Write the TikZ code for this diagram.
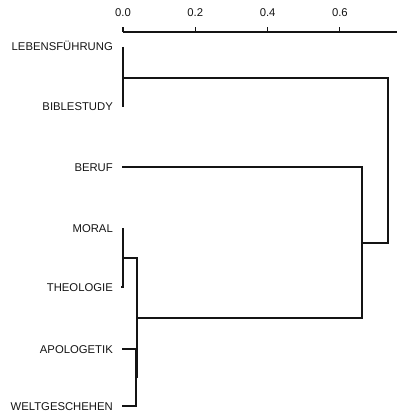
\documentclass[tikz,border=0pt]{standalone}
\usepackage{fontspec}
\setmainfont{Liberation Sans}
\usetikzlibrary{positioning}
\definecolor{inkgray}{RGB}{20,20,20}
\newcommand{\labelfont}{\fontsize{11.3}{13}\selectfont}

\begin{document}
\begin{tikzpicture}[
    x=1pt, y=-1pt,
    leaf/.style={anchor=base east, inner sep=0pt, font=\labelfont, text=inkgray},
    scalelabel/.style={anchor=base, inner sep=0pt, font=\labelfont, text=inkgray},
    link/.style={draw=inkgray, line width=1.1pt},
    axisline/.style={draw=inkgray, line width=1.1pt}
]
\useasboundingbox (0,0) rectangle (397,414);

% Scale axis (distance 0.0 -- 0.6)
\draw[axisline] (123,32) -- (397,32);
\foreach \v/\xx [count=\i] in {0.0/123, 0.2/195.3, 0.4/267.6, 0.6/339.9} {
  \draw[axisline] (\xx,32) -- (\xx,27);
  \node[scalelabel] (tick\i) at (\xx,17) {\v};
}

% Leaves (labels + tips)
\node[leaf] (lebens) at (113,51) {LEBENSFÜHRUNG};
\node[leaf] (bible) at (113,111) {BIBLESTUDY};
\node[leaf] (beruf) at (113,171) {BERUF};
\node[leaf] (moral) at (113,232) {MORAL};
\node[leaf] (theo) at (113,291) {THEOLOGIE};
\node[leaf] (apol) at (113,353) {APOLOGETIK};
\node[leaf] (welt) at (113,410) {WELTGESCHEHEN};

\coordinate (tipLebens) at (123,47);
\coordinate (tipBible) at (123,107);
\coordinate (tipBeruf) at (122,167);
\coordinate (tipMoral) at (123,228);
\coordinate (tipTheo) at (123,287);
\coordinate (tipApol) at (122,349);
\coordinate (tipWelt) at (122,406);

% Merge points
\coordinate (mLB) at (123,78);
\coordinate (mMT) at (123,258);
\coordinate (mAW) at (136,378);
\coordinate (mMTAW) at (137,318);
\coordinate (mRest) at (362,243);
\coordinate (mRoot) at (388,78);

% LEBENSFÜHRUNG + BIBLESTUDY
\draw[link] (tipLebens) -- (tipBible);
\draw[link] (mLB) -- (mRoot) -- (mRoot |- mRest) -- (mRest);

% MORAL + THEOLOGIE
\draw[link] (tipMoral) -- (tipTheo) -- ++(-2,0);
\draw[link] (mMT) -| (mMTAW |- mMT) -- (mMTAW |- mAW);

% APOLOGETIK + WELTGESCHEHEN
\draw[link] (tipApol) -| (mAW |- tipApol) -- (mAW |- tipWelt) -- (tipWelt);

% join with BERUF
\draw[link] (mMTAW) -- (mRest |- mMTAW) -- (mRest |- tipBeruf) -- (tipBeruf);

\end{tikzpicture}
\end{document}
